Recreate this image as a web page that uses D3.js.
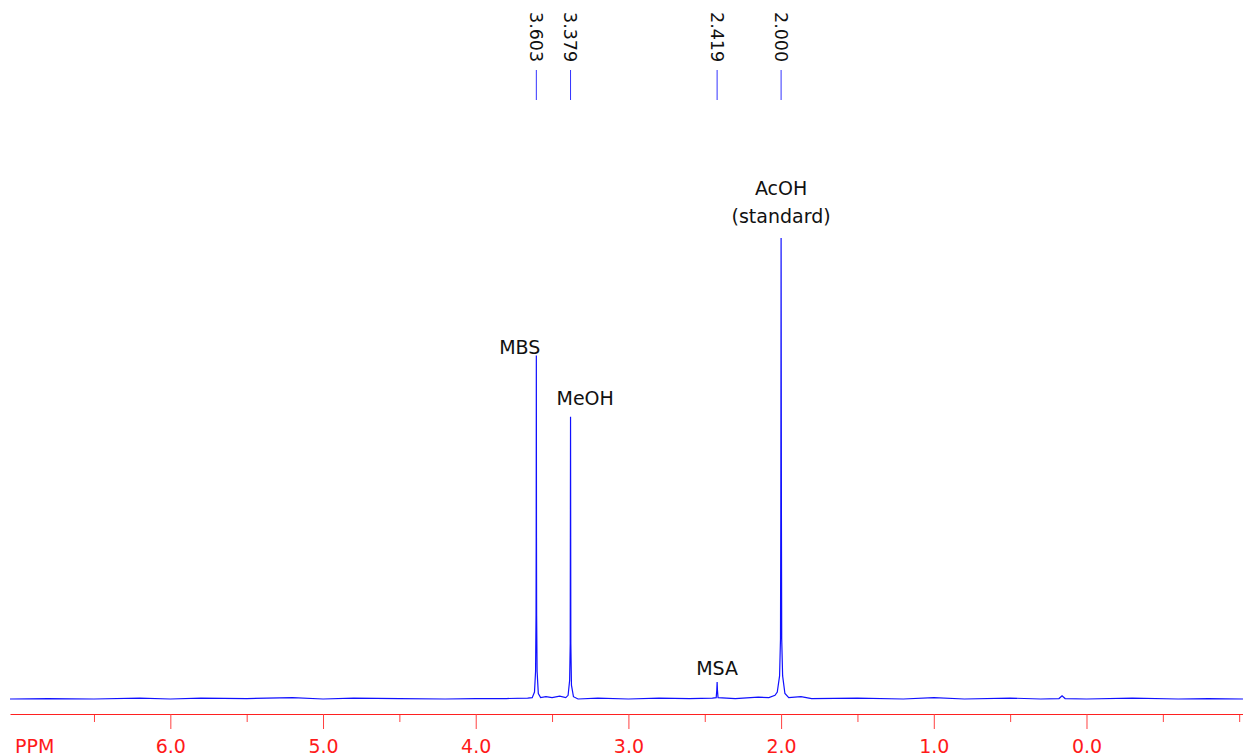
<!DOCTYPE html>
<html>
<head>
<meta charset="utf-8">
<script src="https://cdn.jsdelivr.net/npm/d3@7"></script>
<style>
  body { margin: 0; background: #fff; }
  svg { display: block; }
</style>
</head>
<body>
<div id="chart"></div>
<script>
// spectrum trace (intensity as % of the AcOH peak)
const specPpm = [
  7.05, 6.8, 6.5, 6.2, 6.0, 5.8, 5.5, 5.2, 5.0, 4.8, 4.5, 4.2, 4.0, 3.8, 3.66,
  3.63, 3.615, 3.608, 3.605, 3.604, 3.603, 3.602, 3.601, 3.598, 3.59, 3.575, 3.54, 3.5, 3.45, 3.41,
  3.395, 3.385, 3.381, 3.379, 3.377, 3.373, 3.36, 3.33, 3.2, 3.0, 2.8, 2.6, 2.45,
  2.425, 2.421, 2.419, 2.417, 2.413, 2.3, 2.15, 2.08, 2.04,
  2.025, 2.01, 2.004, 2.002, 2.0, 1.998, 1.996, 1.99, 1.975, 1.95, 1.87, 1.8, 1.5, 1.2, 1.0, 0.8, 0.5, 0.3,
  0.18, 0.16, 0.14, 0.0, -0.3, -0.6, -0.8, -1.025
];
const specInt = [
  0, 0.1, 0, 0.2, 0, 0.2, 0.1, 0.3, 0, 0.2, 0.1, 0, 0.1, 0.1, 0.2,
  0.3, 1.5, 6, 18, 35, 74.5, 35, 18, 6, 1.2, 0.3, 0.5, 0.3, 0.6, 0.3,
  0.8, 4, 12, 61.2, 12, 3, 0.5, 0, 0.2, 0, 0.2, 0.1, 0.2,
  0.3, 2, 3.7, 2, 0.3, 0.1, 0.4, 0.3, 0.8,
  1.5, 5, 13, 40, 100, 40, 13, 5, 1.2, 0.3, 0.5, 0.1, 0.2, 0, 0.3, 0, 0.2, 0,
  0.1, 0.7, 0.1, 0, 0.2, 0, 0.1, 0
];

// peak picks and names
const peakPpm = [3.603, 3.379, 2.419, 2.000];
const peakInt = [74.5, 61.2, 3.7, 100];
const peakName = [["MBS"], ["MeOH"], ["MSA"], ["AcOH", "(standard)"]];

const xTicks = [6, 5, 4, 3, 2, 1, 0];
const xMinor = [6.5, 5.5, 4.5, 3.5, 2.5, 1.5, 0.5, -0.5, -1.0];

const width = 1243, height = 756;
const svg = d3.select("#chart").append("svg")
  .attr("width", width)
  .attr("height", height);

const x = d3.scaleLinear().domain([7.05, -1.025]).range([10, 1243]);
const y = d3.scaleLinear().domain([0, 100]).range([699, 238]);

// spectrum line
const pts = specPpm.map((p, i) => [p, specInt[i]]);
svg.append("path")
  .datum(pts)
  .attr("fill", "none")
  .attr("stroke", "#1010ff")
  .attr("stroke-width", 1.2)
  .attr("d", d3.line().x(d => x(d[0])).y(d => y(d[1])));

// ppm axis (red)
const axisY = 714;
const gMinor = svg.append("g").attr("transform", `translate(0,${axisY})`)
  .call(d3.axisBottom(x).tickValues(xMinor).tickSize(8).tickSizeOuter(0).tickFormat(""));
const gMajor = svg.append("g").attr("transform", `translate(0,${axisY})`)
  .call(d3.axisBottom(x).tickValues(xTicks).tickSize(15).tickSizeOuter(0).tickFormat(d3.format(".1f")));
[gMinor, gMajor].forEach(g => {
  g.select(".domain").attr("stroke", "#ff2020").attr("stroke-width", 1);
  g.selectAll(".tick line").attr("stroke", "#ff4040");
});
gMinor.select(".domain").remove();
gMajor.selectAll(".tick text")
  .attr("fill", "#ff1a1a")
  .attr("font-family", "DejaVu Sans, Verdana, sans-serif")
  .attr("font-size", 19)
  .attr("y", 0)
  .attr("dy", 0)
  .attr("transform", `translate(0,${753 - axisY})`);
svg.append("text")
  .attr("x", 15).attr("y", 753)
  .attr("fill", "#ff1a1a")
  .attr("font-family", "DejaVu Sans, Verdana, sans-serif")
  .attr("font-size", 19)
  .text("PPM");

// peak pick marks at the top
const picks = svg.append("g");
picks.selectAll("line")
  .data(peakPpm)
  .join("line")
  .attr("x1", d => x(d)).attr("x2", d => x(d))
  .attr("y1", 70).attr("y2", 100)
  .attr("stroke", "#3333ff")
  .attr("stroke-width", 1);
picks.selectAll("text")
  .data(peakPpm)
  .join("text")
  .attr("transform", d => `translate(${x(d)},12) rotate(90)`)
  .attr("dy", "0.35em")
  .attr("font-family", "DejaVu Sans, Verdana, sans-serif")
  .attr("font-size", 17.5)
  .attr("fill", "#111")
  .text(d => d3.format(".3f")(d));

// compound labels
const lab = svg.append("g")
  .attr("font-family", "DejaVu Sans, Verdana, sans-serif")
  .attr("font-size", 19)
  .attr("fill", "#111");
// MBS
lab.append("text").attr("x", x(peakPpm[0]) + 4).attr("y", y(peakInt[0]) - 2)
  .attr("text-anchor", "end").text(peakName[0][0]);
// MeOH
lab.append("text").attr("x", x(peakPpm[1]) - 14).attr("y", y(peakInt[1]) - 12)
  .text(peakName[1][0]);
// MSA
lab.append("text").attr("x", x(peakPpm[2])).attr("y", y(peakInt[2]) - 7)
  .attr("text-anchor", "middle").text(peakName[2][0]);
// AcOH
peakName[3].forEach((t, i) => {
  lab.append("text").attr("x", x(peakPpm[3])).attr("y", y(peakInt[3]) - 43 + i * 28)
    .attr("text-anchor", "middle").text(t);
});
</script>
</body>
</html>
